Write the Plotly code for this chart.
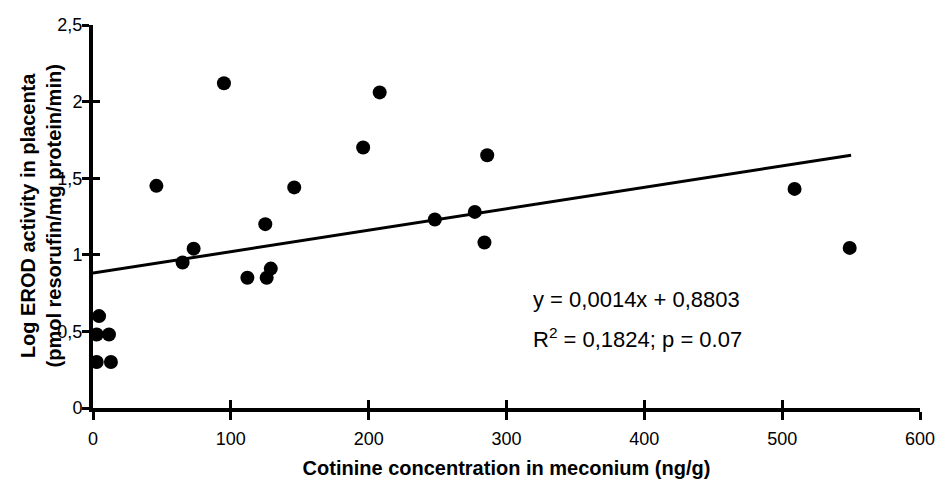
import plotly.graph_objects as go

# Data
cotinine = [4.4, 2.7, 11.6, 2.7, 13, 46, 95, 65, 73, 112, 125, 126, 129, 146,
            196, 208, 248, 277, 286, 284, 509, 549]
erod = [0.60, 0.48, 0.48, 0.30, 0.30, 1.45, 2.12, 0.95, 1.04, 0.85, 1.20, 0.85,
        0.91, 1.44, 1.70, 2.06, 1.23, 1.28, 1.65, 1.08, 1.43, 1.045]
slope = 0.0014
intercept = 0.8803
fit_x = [0, 550]
fit_y = [intercept + slope * v for v in fit_x]
x_ticks = [0, 100, 200, 300, 400, 500, 600]
y_ticks = [0, 0.5, 1, 1.5, 2, 2.5]

tick_font = dict(family="Liberation Sans, Arial", size=18, color="black")
title_font = dict(family="Liberation Sans, Arial", size=20, color="black")

fig = go.Figure()
fig.add_trace(go.Scatter(x=fit_x, y=fit_y, mode="lines",
                         line=dict(color="black", width=3), showlegend=False, hoverinfo="skip"))
fig.add_trace(go.Scatter(x=cotinine, y=erod, mode="markers",
                         marker=dict(color="black", size=14), showlegend=False))
# invisible trace to carry the overlay axes (inner half of the crossing ticks)
fig.add_trace(go.Scatter(x=[0], y=[0], xaxis="x2", yaxis="y2", mode="markers",
                         marker=dict(opacity=0), showlegend=False, hoverinfo="skip"))

fig.update_layout(
    width=939, height=484,
    margin=dict(l=93, r=19, t=25, b=76),
    plot_bgcolor="white", paper_bgcolor="white",
    separators=", ",
    xaxis=dict(range=[0, 600], tickvals=x_ticks, ticks="outside", ticklen=8, tickwidth=3,
               tickcolor="black", showline=True, linecolor="black", linewidth=4,
               showgrid=False, zeroline=False, tickfont=tick_font, automargin=False,
               ticklabelstandoff=3,
               title=dict(text="<b>Cotinine concentration in meconium (ng/g)</b>",
                          font=title_font, standoff=14)),
    yaxis=dict(range=[0, 2.5], tickvals=y_ticks, ticks="outside", ticklen=7, tickwidth=3,
               tickcolor="black", showline=True, linecolor="black", linewidth=4,
               showgrid=False, zeroline=False, tickfont=tick_font, automargin=False,
               ticklabelstandoff=-4),
    xaxis2=dict(range=[0, 600], tickvals=x_ticks, ticks="inside", ticklen=8, tickwidth=3,
                tickcolor="black", overlaying="x", anchor="y", side="bottom",
                showticklabels=False, showgrid=False, zeroline=False, showline=False),
    yaxis2=dict(range=[0, 2.5], tickvals=y_ticks, ticks="inside", ticklen=7, tickwidth=3,
                tickcolor="black", overlaying="y", anchor="x", side="left",
                showticklabels=False, showgrid=False, zeroline=False, showline=False),
    annotations=[
        dict(x=0, y=0.5, xref="paper", yref="paper", xanchor="center", yanchor="middle",
             xshift=-53, textangle=-90, showarrow=False,
             text="<b>Log EROD activity in placenta<br>(pmol resorufin/mg protein/min)</b>",
             font=title_font),
        dict(x=318, y=0.705, xref="x", yref="y", xanchor="left", yanchor="middle",
             align="left", showarrow=False, text="y = 0,0014x + 0,8803",
             font=dict(family="Liberation Sans, Arial", size=22, color="black")),
        dict(x=318, y=0.457, xref="x", yref="y", xanchor="left", yanchor="middle",
             align="left", showarrow=False, text="R<sup>2</sup> = 0,1824; p = 0.07",
             font=dict(family="Liberation Sans, Arial", size=22, color="black")),
    ],
)

fig.write_html("out.html", config={"displayModeBar": False},
               post_script="document.body.style.margin='0px';document.body.style.overflow='hidden';")
